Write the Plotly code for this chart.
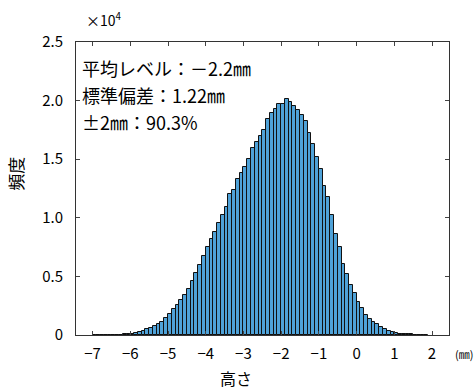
import plotly.graph_objects as go

# bin centers (mm), bin width 0.1
bin_centers = [round(-6.95 + 0.1 * i, 2) for i in range(90)]
# frequency values (thousands)
freq_k = [
    0.003, 0.004, 0.005, 0.007, 0.01, 0.015, 0.02, 0.03, 0.045,          # -6.95 .. -6.15
    0.06, 0.12, 0.2, 0.28, 0.37, 0.47, 0.6, 0.74, 0.9, 1.1,              # -6.05 .. -5.15
    1.48, 1.8, 2.2, 2.57, 3.0, 3.4, 3.9, 4.6, 5.3, 6.0,                  # -5.05 .. -4.15
    6.7, 7.5, 8.15, 8.8, 9.55, 10.25, 10.95, 12.0, 12.4, 13.3,           # -4.05 .. -3.15
    13.8, 14.35, 15.0, 15.95, 16.5, 17.0, 17.5, 18.4, 18.9, 19.3,        # -3.05 .. -2.15
    19.7, 19.7, 20.1, 19.9, 19.5, 19.2, 18.8, 18.3, 17.2, 16.3,          # -2.05 .. -1.15
    15.2, 14.2, 12.7, 11.8, 10.2, 8.6, 7.5, 6.1, 5.2, 4.3,               # -1.05 .. -0.15
    3.6, 2.85, 2.3, 1.7, 1.4, 1.1, 0.92, 0.68, 0.54, 0.34,               # -0.05 .. 0.85
    0.28, 0.15, 0.12, 0.09, 0.07, 0.05, 0.04, 0.03, 0.02, 0.01,          # 0.95 .. 1.85
]
bin_centers = bin_centers[:len(freq_k)]
freq = [v * 1000 for v in freq_k]

x_ticks = list(range(-7, 3))
y_tick_vals = [0, 5000, 10000, 15000, 20000, 25000]
y_tick_text = ["0", "0.5", "1.0", "1.5", "2.0", "2.5"]

stats_lines = ["平均レベル：－2.2㎜", "標準偏差：1.22㎜", "±2㎜：90.3%"]

FONT = "Noto Sans CJK JP"

fig = go.Figure(go.Bar(
    x=bin_centers, y=freq, width=0.1,
    marker=dict(color="#4fa2d8", line=dict(color="#111111", width=1)),
))

fig.update_layout(
    width=476, height=392,
    margin=dict(l=76, r=27, t=42, b=57),
    paper_bgcolor="white", plot_bgcolor="white",
    showlegend=False, bargap=0,
    font=dict(family=FONT, size=15, color="black"),
)
fig.update_xaxes(
    range=[-7.44, 2.45], tickvals=x_ticks, ticks="inside", ticklen=4,
    showline=True, linecolor="#333333", linewidth=1, mirror="ticks",
    showgrid=False, zeroline=False, tickfont=dict(size=15, family=FONT),
    ticklabelstandoff=5,
)
fig.update_yaxes(
    range=[0, 25000], tickvals=y_tick_vals, ticktext=y_tick_text,
    ticks="inside", ticklen=4,
    showline=True, linecolor="#333333", linewidth=1, mirror="ticks",
    showgrid=False, zeroline=False, tickfont=dict(size=15, family=FONT),
    ticklabelstandoff=9,
)

annots = []
for i, t in enumerate(stats_lines):
    annots.append(dict(x=0.01, y=0.91 - i * 0.091, xref="paper", yref="paper",
                       text=t, showarrow=False, xanchor="left", yanchor="middle",
                       font=dict(size=18, family=FONT)))
annots.append(dict(x=0.022, y=1.0, xref="paper", yref="paper", text="×10<sup>4</sup>",
                   showarrow=False, xanchor="left", yanchor="bottom", yshift=10,
                   font=dict(size=14, family=FONT)))
annots.append(dict(x=1.0, y=0, xref="paper", yref="paper", text="(㎜)",
                   showarrow=False, xanchor="left", yanchor="top", xshift=4, yshift=-9,
                   font=dict(size=11, family=FONT)))
annots.append(dict(x=0.43, y=0, xref="paper", yref="paper", text="高さ",
                   showarrow=False, xanchor="center", yanchor="middle", yshift=-43,
                   font=dict(size=16, family=FONT)))
annots.append(dict(x=0, y=0.55, xref="paper", yref="paper", text="頻度", textangle=-90,
                   showarrow=False, xanchor="center", yanchor="middle", xshift=-60,
                   font=dict(size=17, family=FONT)))
fig.update_layout(annotations=annots)

fig.write_html("out.html")
